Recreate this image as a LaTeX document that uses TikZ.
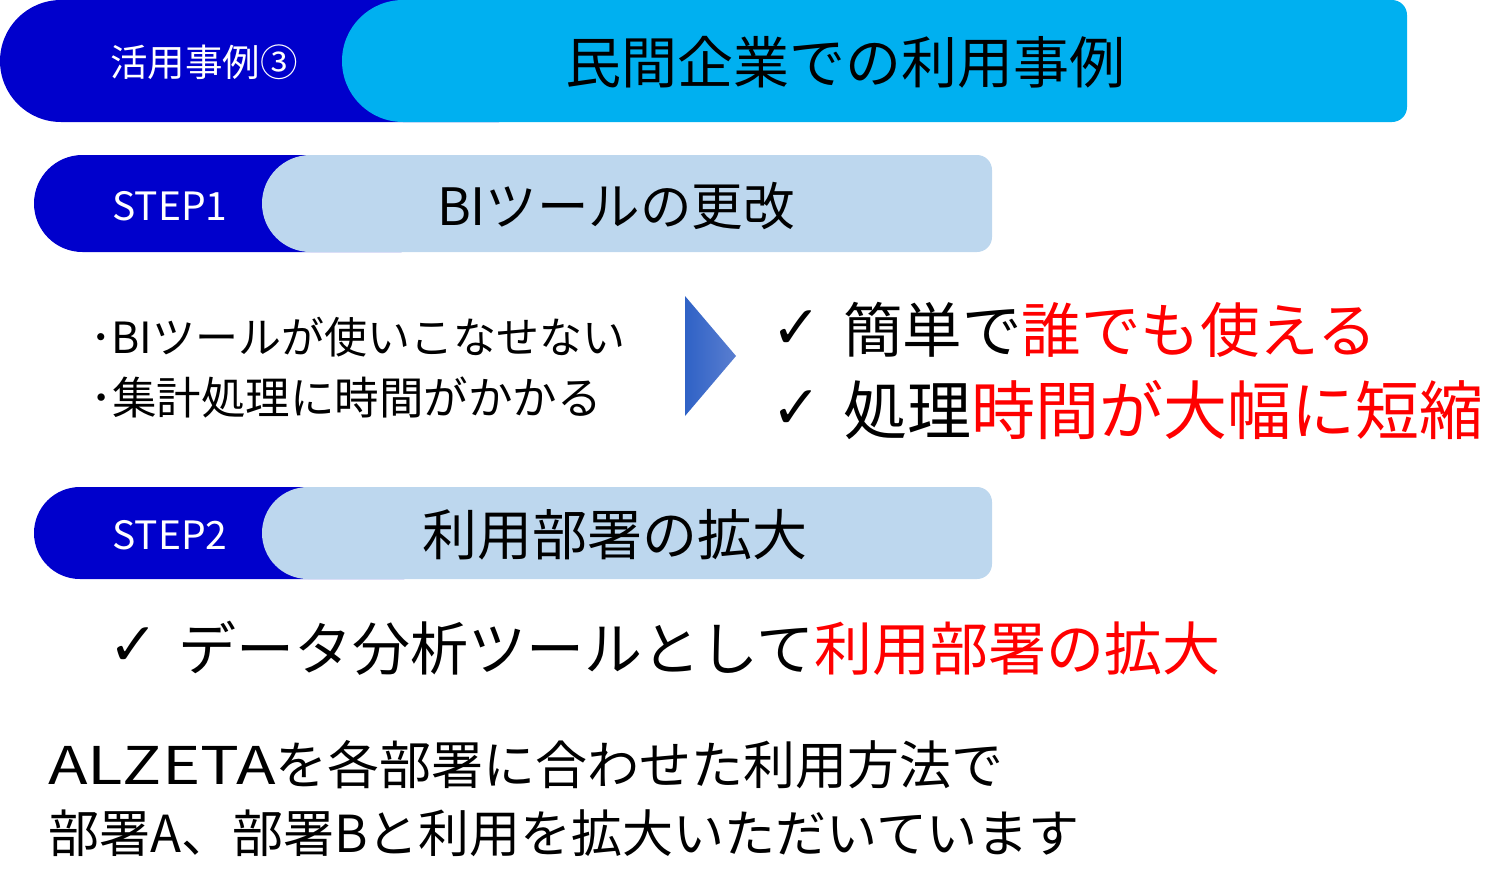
\documentclass[tikz,border=0pt]{standalone}
\usepackage{fontspec}
\setmainfont{Noto Sans CJK JP}
\newfontfamily\symfont{DejaVu Sans}
\usetikzlibrary{shadings}
\definecolor{navyb}{HTML}{0000CC}
\definecolor{cyanb}{HTML}{00B0F0}
\definecolor{paleb}{HTML}{BDD7EE}
\definecolor{redt}{HTML}{FF0000}
\definecolor{trileft}{HTML}{2F62C6}
\definecolor{triright}{HTML}{5A7ED0}
\newcommand{\fsz}[1]{\fontsize{#1}{#1}\selectfont}
\newcommand{\rd}[1]{\textcolor{redt}{#1}}
\tikzset{
  txt/.style={inner sep=0pt, outer sep=0pt},
  wtxt/.style={txt, text=white},
  chk/.style={txt, font=\symfont\bfseries\fsz{60}},
}
\begin{document}
\begin{tikzpicture}[x=1pt,y=-1pt]
\useasboundingbox (0,0) rectangle (1509,879);
% header
\fill[navyb, rounded corners=61] (0,0) rectangle (560,122);
\fill[cyanb] (700,0) [rounded corners=15] -- (1407,0) -- (1407,122) -- (700,122) [rounded corners=61] -- (342,122) -- (342,0) -- cycle;
\node[wtxt, font=\fsz{37.5}] (case) at (204,62) {活用事例③};
\node[txt, font=\fsz{56}] (title) at (845,62) {民間企業での利用事例};
% step1
\fill[navyb, rounded corners=48.5] (34,155) rectangle (450,252);
\fill[paleb] (500,155) [rounded corners=15] -- (992,155) -- (992,252) -- (500,252) [rounded corners=48.5] -- (262,252) -- (262,155) -- cycle;
\node[wtxt, font=\fsz{39}] (s1) at (170,206) {STEP1};
\node[txt, font=\fsz{51.5}] (s1t) at (616,206) {BIツールの更改};
% bullets
\node[txt, font=\fsz{43}, anchor=west] (b1) at (90,337) {･BIツールが使いこなせない};
\node[txt, font=\fsz{44.5}, anchor=west] (b2) at (90,397) {･集計処理に時間がかかる};
% triangle
\shade[left color=trileft, right color=triright] (685,296) -- (736,356) -- (685,416) -- cycle;
% results
\node[chk] (c1) at (797,330) {✓};
\node[chk] (c2) at (797,410) {✓};
\node[txt, font=\fsz{59.5}, anchor=west] (r1) at (843,330) {簡単で\rd{誰でも使える}};
\node[txt, font=\fsz{64}, anchor=west] (r2) at (843,410) {処理\rd{時間が大幅に短縮}};
% step2
\fill[navyb, rounded corners=46] (34,487) rectangle (450,579);
\fill[paleb] (500,487) [rounded corners=15] -- (992,487) -- (992,579) -- (500,579) [rounded corners=46] -- (262,579) -- (262,487) -- cycle;
\node[wtxt, font=\fsz{39}] (s2) at (170,535) {STEP2};
\node[txt, font=\fsz{55}] (s2t) at (615,535) {利用部署の拡大};
\node[chk] (c3) at (134,647) {✓};
\node[txt, font=\fsz{58}, anchor=west] (r3) at (178,648) {データ分析ツールとして\rd{利用部署の拡大}};
% bottom
\node[txt, font=\fsz{52}, anchor=west] (m1) at (48,765) {\scalebox{1.25}[1]{ALZETA}を各部署に合わせた利用方法で};
\node[txt, font=\fsz{51}, anchor=west] (m2) at (48,833) {部署A、部署Bと利用を拡大いただいています};
\end{tikzpicture}
\end{document}
